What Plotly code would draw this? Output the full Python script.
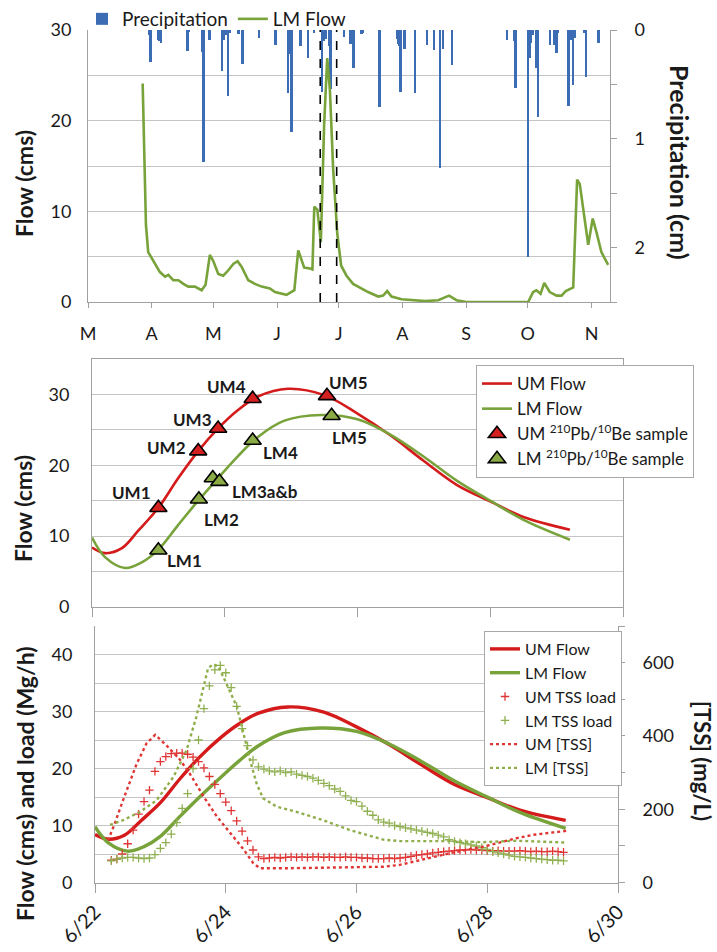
import plotly.graph_objects as go
from datetime import datetime, timedelta

# ---------------- data ----------------
# Top panel: season (day offsets from 1 March)
flow_season_days = [26.6, 27.5, 28.2, 29.3, 31.0, 32.6, 35.0, 37.5, 39.1, 41.5, 44.0, 46.4, 48.8, 52.0,
                    55.3, 57.2, 59.3, 61.0, 63.4, 65.8, 68.3, 70.7, 72.8, 74.7, 78.0, 81.2, 84.5, 88.5,
                    91.0, 96.6, 100.4, 102.3, 105.2, 108.0, 109.2, 110.1, 111.6, 113.3, 114.9, 116.4,
                    117.7, 119.3, 121.3, 123.2, 125.8, 129.0, 133.1, 136.3, 141.2, 143.6, 145.6, 147.7,
                    152.6, 157.4, 164.0, 170.4, 175.7, 179.3, 184.2, 214.2, 216.6, 218.2, 220.2, 222.0,
                    224.7, 228.0, 230.4, 232.5, 235.3, 236.1, 238.0, 239.3, 243.4, 245.6, 247.4, 249.8,
                    253.1]
flow_season_lm = [24.1, 14.0, 8.5, 5.5, 4.8, 4.3, 3.3, 2.8, 3.0, 2.4, 2.4, 2.0, 1.7, 1.7,
                  1.3, 1.9, 5.2, 4.5, 3.1, 2.9, 3.5, 4.2, 4.5, 3.9, 2.4, 2.0, 1.7, 1.5,
                  1.1, 0.8, 1.3, 5.7, 3.8, 3.7, 3.6, 10.5, 10.2, 6.6, 19.5, 26.9,
                  23.4, 14.6, 7.5, 4.0, 2.9, 2.0, 1.5, 1.1, 0.6, 0.7, 1.2, 0.6,
                  0.3, 0.2, 0.1, 0.2, 0.7, 0.2, 0.0, 0.0, 1.1, 1.3, 0.9, 2.1,
                  1.1, 0.7, 0.7, 1.2, 1.5, 1.6, 13.5, 13.0, 6.3, 9.2, 7.7, 5.5,
                  4.1]
precip_days = [30.0, 30.5, 34.2, 35.0, 35.6, 48.5, 49.2, 55.6, 56.4, 59.3, 65.3, 66.1, 67.0, 68.3,
               69.0, 73.4, 75.2, 83.2, 91.3, 97.4, 98.2, 99.1, 103.6, 107.2, 110.0, 114.0, 114.8,
               116.0, 117.5, 118.2, 124.7, 127.9, 128.6, 129.3, 133.1, 133.9, 142.0, 150.5, 151.2,
               151.7, 152.2, 154.2, 159.2, 165.2, 168.4, 171.5, 172.8, 177.2, 204.0, 207.4, 208.2,
               214.2, 215.0, 215.8, 216.6, 218.2, 219.2, 225.0, 227.2, 228.0, 228.8, 234.0, 234.8,
               236.1, 236.9, 241.7, 242.5, 248.5]
precip_cm = [0.05, 0.29, 0.09, 0.10, 0.12, 0.19, 0.02, 0.20, 1.21, 0.09, 0.38, 0.09, 0.05, 0.61,
             0.03, 0.04, 0.31, 0.07, 0.14, 0.58, 0.22, 0.94, 0.15, 0.26, 0.03, 0.57, 0.10,
             0.08, 0.15, 0.54, 0.06, 0.13, 0.03, 0.35, 0.04, 0.03, 0.71, 0.08, 0.13,
             0.15, 0.57, 0.17, 0.58, 0.14, 0.18, 1.27, 0.17, 0.32, 0.09, 0.10, 0.53,
             2.09, 0.26, 0.12, 0.05, 0.35, 0.80, 0.14, 0.14, 0.21, 0.03, 0.70, 0.09,
             0.51, 0.07, 0.03, 0.43, 0.12]
month_ticks = ["M", "A", "M", "J", "J", "A", "S", "O", "N"]

# Middle/bottom panels: event (day offsets from 22 June)
um_flow_days = [0.0, 0.2, 0.45, 0.7, 1.0, 1.3, 1.6, 1.9, 2.2, 2.5, 2.95, 3.5, 4.0, 4.5, 5.0, 5.5, 6.0, 6.5, 7.2]
um_flow = [8.4, 7.6, 8.3, 10.8, 14.0, 18.2, 22.0, 25.2, 27.8, 29.7, 30.8, 29.9, 27.3, 24.2, 20.6, 17.2, 14.9, 12.7, 10.9]
lm_flow_days = [0.0, 0.2, 0.5, 0.75, 1.0, 1.3, 1.6, 1.9, 2.2, 2.5, 2.9, 3.45, 4.0, 4.5, 5.0, 5.5, 6.0, 6.5, 7.2]
lm_flow = [9.8, 7.0, 5.5, 6.3, 8.1, 11.6, 15.0, 18.2, 21.3, 24.0, 26.3, 27.1, 26.5, 24.3, 21.2, 17.8, 15.0, 12.3, 9.5]

um_sample_days = [1.0, 1.6, 1.9, 2.42, 3.54]
um_sample_flow = [14.0, 22.0, 25.2, 29.4, 29.8]
um_sample_labels = ["UM1", "UM2", "UM3", "UM4", "UM5"]
lm_sample_days = [1.0, 1.61, 1.82, 1.92, 2.42, 3.61]
lm_sample_flow = [8.0, 15.2, 18.2, 17.7, 23.5, 27.0]
lm_sample_labels = ["LM1", "LM2", "", "LM3a&b", "LM4", "LM5"]

load_hours = list(range(6, 173, 2))
um_tss_load = [3.9, 4.1, 5.0, 6.8, 9.2, 12.0, 14.2, 16.2, 19.5, 21.2, 22.1, 22.6, 22.7, 22.7,
               22.5, 22.0, 21.2, 20.1, 18.6, 17.2, 15.6, 14.1, 12.6, 10.8, 9.0, 7.3, 5.7, 4.5,
               4.2, 4.3, 4.4, 4.3, 4.4, 4.5, 4.4, 4.5, 4.4, 4.5, 4.5, 4.4, 4.5, 4.4,
               4.4, 4.5, 4.4, 4.4, 4.3, 4.3, 4.2, 4.2, 4.2, 4.3, 4.2, 4.3, 4.4, 4.6,
               4.8, 4.9, 5.0, 5.2, 5.3, 5.4, 5.5, 5.6, 5.7, 5.7, 5.8, 5.7, 5.7, 5.6,
               5.5, 5.6, 5.5, 5.5, 5.5, 5.6, 5.5, 5.4, 5.5, 5.4, 5.4, 5.5, 5.4, 5.3]
lm_tss_load = [3.8, 4.1, 4.3, 4.4, 4.4, 4.3, 4.2, 4.3, 4.9, 6.0, 7.0, 8.5, 10.5, 13.0,
               15.6, 20.0, 25.0, 30.5, 34.5, 37.3, 38.1, 36.8, 34.2, 30.9, 27.0, 24.0, 21.5, 20.3,
               19.9, 19.6, 19.4, 19.6, 19.3, 19.4, 19.0, 18.8, 18.6, 18.3, 17.9, 17.4, 17.0, 16.4,
               16.0, 15.2, 14.4, 14.2, 13.4, 12.5, 11.8, 11.0, 10.6, 10.4, 10.0, 9.8, 9.6, 9.4,
               9.2, 9.0, 8.8, 8.6, 8.3, 8.0, 7.5, 7.2, 7.0, 6.8, 6.6, 6.4, 6.1, 5.8,
               5.4, 5.2, 5.0, 4.8, 4.6, 4.5, 4.4, 4.3, 4.2, 4.1, 4.0, 3.9, 3.9, 3.8]

um_tss_days = [0.2, 0.3, 0.43, 0.64, 0.79, 0.92, 1.1, 1.3, 1.45, 1.66, 1.86, 2.06, 2.27, 2.42, 2.52,
               3.0, 3.5, 4.05, 4.41, 4.66, 4.92, 5.17, 5.43, 5.68, 5.94, 6.19, 6.45, 6.7, 7.21]
um_tss = [115, 160, 225, 325, 380, 403, 373, 335, 297, 235, 181, 136, 91, 53, 39,
          39, 40, 42, 43, 48, 59, 69, 80, 89, 98, 109, 121, 130, 141]
lm_tss_days = [0.23, 0.43, 0.69, 0.94, 1.2, 1.4, 1.55, 1.66, 1.73, 1.81, 1.89, 1.96, 2.06, 2.17,
               2.27, 2.37, 2.47, 2.57, 2.78, 3.08, 3.49, 3.9, 4.41, 4.66, 5.43, 5.94, 6.45, 7.21]
lm_tss = [157, 170, 193, 224, 288, 361, 452, 535, 585, 596, 589, 562, 525, 480,
          408, 335, 271, 230, 207, 193, 170, 143, 117, 113, 113, 110, 114, 109]
event_ticks = ["6/22", "6/24", "6/26", "6/28", "6/30"]

# ---------------- helpers ----------------
SEASON0 = datetime(2011, 3, 1)
EVENT0 = datetime(2011, 6, 22)
W, H = 717, 952
FONT = "Lato"
RED = "#D41A1A"
GREEN = "#78A23A"
BLUE = "#3C6DB4"
GRID = "#C4C4C4"
AXL = "#A0A0A0"
TXT = "#1A1A1A"


def sdates(days):
    return [SEASON0 + timedelta(days=d) for d in days]


def edates(days):
    return [EVENT0 + timedelta(days=d) for d in days]


def px(x):
    return x / W


def py(y):
    return 1 - y / H


fig = go.Figure()

# ---- top panel ----
fig.add_trace(go.Bar(x=sdates(precip_days), y=precip_cm, name="Precipitation", xaxis="x", yaxis="y",
                     marker=dict(color=BLUE, line=dict(width=0)), width=0.95 * 86400000,
                     legend="legend"))
fig.add_trace(go.Scatter(x=sdates(flow_season_days), y=flow_season_lm, name="LM Flow", mode="lines",
                         xaxis="x", yaxis="y2", line=dict(color=GREEN, width=2.6), legend="legend"))

# ---- middle panel ----
fig.add_trace(go.Scatter(x=edates(um_flow_days), y=um_flow, name="UM Flow", mode="lines",
                         xaxis="x2", yaxis="y3", line=dict(color=RED, width=2.6, shape="spline"),
                         legend="legend2"))
fig.add_trace(go.Scatter(x=edates(lm_flow_days), y=lm_flow, name="LM Flow", mode="lines",
                         xaxis="x2", yaxis="y3", line=dict(color=GREEN, width=2.6, shape="spline"),
                         legend="legend2"))
fig.add_trace(go.Scatter(x=edates(um_sample_days), y=um_sample_flow,
                         name="UM <sup>210</sup>Pb/<sup>10</sup>Be sample", mode="markers",
                         xaxis="x2", yaxis="y3",
                         marker=dict(symbol="triangle-up", size=15, color="#D42020",
                                     line=dict(color="black", width=1.6)), legend="legend2"))
fig.add_trace(go.Scatter(x=edates(lm_sample_days), y=lm_sample_flow,
                         name="LM <sup>210</sup>Pb/<sup>10</sup>Be sample", mode="markers",
                         xaxis="x2", yaxis="y3",
                         marker=dict(symbol="triangle-up", size=15, color="#8AAA45",
                                     line=dict(color="black", width=1.6)), legend="legend2"))

# ---- bottom panel ----
fig.add_trace(go.Scatter(x=edates(um_flow_days), y=um_flow, name="UM Flow", mode="lines",
                         xaxis="x3", yaxis="y4", line=dict(color=RED, width=3.4, shape="spline"),
                         legend="legend3"))
fig.add_trace(go.Scatter(x=edates(lm_flow_days), y=lm_flow, name="LM Flow", mode="lines",
                         xaxis="x3", yaxis="y4", line=dict(color=GREEN, width=3.4, shape="spline"),
                         legend="legend3"))
fig.add_trace(go.Scatter(x=[EVENT0 + timedelta(hours=h) for h in load_hours], y=um_tss_load,
                         name="UM TSS load", mode="markers", xaxis="x3", yaxis="y4",
                         marker=dict(symbol="cross-thin", size=6, color="#E03535",
                                     line=dict(color="#E03535", width=1.3)), legend="legend3"))
fig.add_trace(go.Scatter(x=[EVENT0 + timedelta(hours=h) for h in load_hours], y=lm_tss_load,
                         name="LM TSS load", mode="markers", xaxis="x3", yaxis="y4",
                         marker=dict(symbol="cross-thin", size=6, color="#8FB050",
                                     line=dict(color="#8FB050", width=1.3)), legend="legend3"))
fig.add_trace(go.Scatter(x=edates(um_tss_days), y=um_tss, name="UM [TSS]", mode="lines",
                         xaxis="x3", yaxis="y5", line=dict(color="#E03535", width=2.4, dash="dot"),
                         legend="legend3"))
fig.add_trace(go.Scatter(x=edates(lm_tss_days), y=lm_tss, name="LM [TSS]", mode="lines",
                         xaxis="x3", yaxis="y5", line=dict(color="#8FAE4A", width=2.4, dash="dot"),
                         legend="legend3"))

tickfont = dict(family=FONT, size=18, color=TXT)
grid_minor = dict(showgrid=True, gridcolor=GRID, gridwidth=1, ticks="")

fig.update_layout(
    xaxis=dict(domain=[px(88), px(610)], anchor="y", type="date", automargin=False,
               range=[SEASON0, SEASON0 + timedelta(days=254)],
               tickvals=[datetime(2011, m, 1) for m in range(3, 12)], ticktext=month_ticks,
               ticks="outside", ticklen=5, tickcolor=AXL, showline=True, linecolor=AXL,
               showgrid=False, tickfont=tickfont, ticklabelstandoff=10),
    yaxis=dict(domain=[py(302), py(30)], anchor="x", side="right", range=[2.5, 0], automargin=False,
               tickvals=[0, 1, 2], ticks="outside", ticklen=6, tickcolor=AXL, showline=True,
               linecolor=AXL, showgrid=False, zeroline=False, tickfont=tickfont,
               ticklabelstandoff=14,
               minor=dict(tickvals=[0.5, 1.5, 2.5], ticks="outside", ticklen=6, tickcolor=AXL,
                          showgrid=False)),
    yaxis2=dict(overlaying="y", anchor="x", side="left", range=[0, 30], automargin=False,
                tickvals=[0, 10, 20, 30], ticks="", showline=True, linecolor=AXL,
                gridcolor=GRID, zeroline=False, tickfont=tickfont, ticklabelstandoff=12,
                minor=dict(tickvals=[5, 15, 25], **grid_minor)),
    xaxis2=dict(domain=[px(92), px(623)], anchor="y3", type="date", automargin=False,
                range=[EVENT0, EVENT0 + timedelta(days=8)],
                tickvals=edates([0, 2, 4, 6, 8]), showticklabels=False,
                ticks="outside", ticklen=9, tickcolor=AXL, showline=True, mirror=True,
                linecolor=AXL, showgrid=False),
    yaxis3=dict(domain=[py(607), py(359)], anchor="x2", range=[0, 35], automargin=False,
                tickvals=[0, 10, 20, 30], ticks="", showline=True, mirror=True, linecolor=AXL,
                gridcolor=GRID, zeroline=False, tickfont=tickfont, ticklabelstandoff=18,
                minor=dict(tickvals=[5, 15, 25, 35], **grid_minor)),
    xaxis3=dict(domain=[px(95), px(618)], anchor="y4", type="date", automargin=False,
                range=[EVENT0, EVENT0 + timedelta(days=8)],
                tickvals=edates([0, 2, 4, 6, 8]), ticktext=event_ticks, tickangle=-45,
                ticks="outside", ticklen=9, tickcolor=AXL, showline=True, linecolor=AXL,
                showgrid=False, tickfont=dict(family=FONT, size=20, color=TXT),
                ticklabelstandoff=0),
    yaxis4=dict(domain=[py(882.5), py(626)], anchor="x3", range=[0, 45], automargin=False,
                tickvals=[0, 10, 20, 30, 40], ticks="", showline=True, linecolor=AXL,
                gridcolor=GRID, zeroline=False, tickfont=tickfont, ticklabelstandoff=18,
                minor=dict(tickvals=[5, 15, 25, 35, 45], **grid_minor)),
    yaxis5=dict(overlaying="y4", anchor="x3", side="right", range=[0, 700], automargin=False,
                tickvals=[0, 200, 400, 600], ticks="outside", ticklen=6, tickcolor=AXL,
                showline=True, linecolor=AXL, showgrid=False, zeroline=False,
                tickfont=tickfont, ticklabelstandoff=14,
                minor=dict(tickvals=[100, 300, 500, 700], ticks="outside", ticklen=6,
                           tickcolor=AXL, showgrid=False)),
)

fig.update_layout(
    legend=dict(x=px(82), y=py(0), xanchor="left", yanchor="top", orientation="h",
                font=dict(family=FONT, size=19, color=TXT), bgcolor="rgba(0,0,0,0)",
                itemwidth=30, tracegroupgap=0),
    legend2=dict(x=px(476), y=py(365), xanchor="left", yanchor="top",
                 font=dict(family=FONT, size=17, color=TXT), bgcolor="white",
                 bordercolor="#A8A8A8", borderwidth=1, itemwidth=30, tracegroupgap=0),
    legend3=dict(x=px(484), y=py(631), xanchor="left", yanchor="top",
                 font=dict(family=FONT, size=16, color=TXT), bgcolor="white",
                 bordercolor="#A8A8A8", borderwidth=1, itemwidth=30, tracegroupgap=0),
)

# dashed event window lines on the top panel
for d in [0, 8]:
    fig.add_shape(type="line", xref="x", yref="y domain", x0=EVENT0 + timedelta(days=d),
                  x1=EVENT0 + timedelta(days=d), y0=0, y1=1,
                  line=dict(color="black", width=1.6, dash="dash"))

# sample labels
um_offsets = [(-27, 15), (-32, 4), (-26, 9), (-26, 12), (22, 13)]
lm_offsets = [(26, -10), (23, -20), (0, 0), (46, -10), (28, -12), (18, -22)]
for d, v, lab, (dx, dy) in zip(um_sample_days, um_sample_flow, um_sample_labels, um_offsets):
    fig.add_annotation(x=EVENT0 + timedelta(days=d), y=v, xref="x2", yref="y3", text=f"<b>{lab}</b>",
                       showarrow=False, xshift=dx, yshift=dy,
                       font=dict(family=FONT, size=17, color=TXT))
for d, v, lab, (dx, dy) in zip(lm_sample_days, lm_sample_flow, lm_sample_labels, lm_offsets):
    if lab:
        fig.add_annotation(x=EVENT0 + timedelta(days=d), y=v, xref="x2", yref="y3",
                           text=f"<b>{lab}</b>", showarrow=False, xshift=dx, yshift=dy,
                           font=dict(family=FONT, size=17, color=TXT))


def axis_title(text, xpix, ypix, angle, size=22):
    fig.add_annotation(text=f"<b>{text}</b>", x=px(xpix), y=py(ypix), xref="paper", yref="paper",
                       showarrow=False, textangle=angle, xanchor="center", yanchor="middle",
                       font=dict(family=FONT, size=size, color=TXT))


axis_title("Flow (cms)", 24, 183, -90, 23)
axis_title("Precipitation (cm)", 680, 162, 90, 25)
axis_title("Flow (cms)", 23, 509, -90, 23)
axis_title("Flow (cms) and load (Mg/h)", 25, 784, -90, 23)
axis_title("[TSS] (mg/L)", 703, 761, 90, 22)

fig.update_layout(width=W, height=H, margin=dict(l=0, r=0, t=0, b=0, autoexpand=False),
                  autosize=False, paper_bgcolor="white", plot_bgcolor="white", bargap=0,
                  font=dict(family=FONT, size=16, color=TXT))

fig.write_html("out.html", config={"displayModeBar": False},
               post_script="document.body.style.margin='0';document.body.style.padding='0';"
                           "document.body.style.overflow='hidden';")
